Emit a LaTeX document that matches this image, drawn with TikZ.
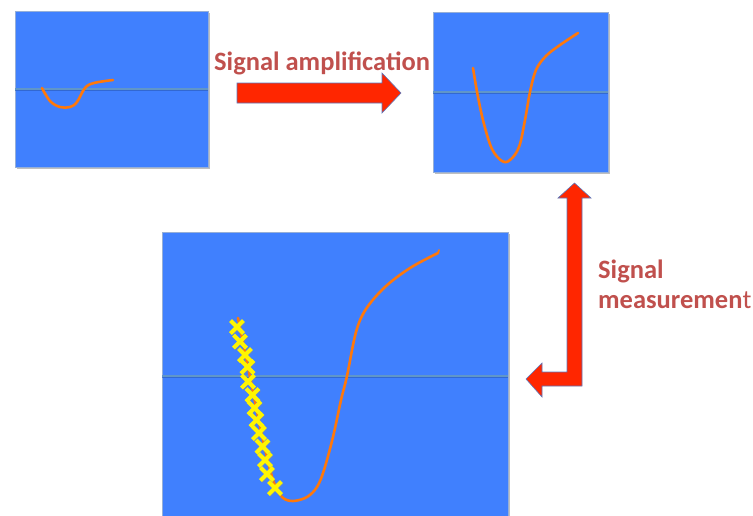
\documentclass[tikz,border=0pt]{standalone}
\usepackage{fontspec}
\setmainfont{Carlito}
\usetikzlibrary{shadows}
\definecolor{panelblue}{RGB}{64,128,254}
\definecolor{axisline}{RGB}{96,150,200}
\definecolor{axisshadow}{RGB}{45,95,190}
\definecolor{sigorange}{RGB}{255,120,10}
\definecolor{arrowred}{RGB}{255,38,0}
\definecolor{arrowedge}{RGB}{90,120,190}
\definecolor{labelred}{RGB}{192,80,77}
\definecolor{markyellow}{RGB}{255,245,0}
\tikzset{
  panel/.style={fill=panelblue, draw={rgb,255:red,150;green,175;blue,215}, line width=0.8pt,
    inner sep=0pt, outer sep=0pt, anchor=north west,
    drop shadow={shadow xshift=1.5pt, shadow yshift=-2pt, opacity=0.25, fill=black}},
  axis/.style={axisline, line width=2pt},
  axisshade/.style={axisshadow, line width=1.2pt, opacity=0.7},
  signal/.style={sigorange, line width=2.6pt, line cap=round, line join=round},
  blockarrow/.style={fill=arrowred, draw=arrowedge, line width=0.6pt, line join=miter},
  label/.style={text=labelred, font=\fontsize{26.5}{30}\selectfont\bfseries, inner sep=0pt},
  xmark/.style={markyellow, line width=4.2pt},
  xshade/.style={black!45, line width=4.2pt, opacity=0.35}
}
\begin{document}
\begin{tikzpicture}[x=1pt, y=-1pt]
\useasboundingbox (0,0) rectangle (753,515);
\clip (0,0) rectangle (753,515);

% panels
\node[panel, minimum width=193pt, minimum height=156pt] (p1) at (15,11) {};
\node[panel, minimum width=175pt, minimum height=160pt] (p2) at (433,12) {};
\node[panel, minimum width=346pt, minimum height=300pt] (p3) at (162,232) {};

% axis lines
\draw[axisshade] (p1.west |- 0,90.5) -- (p1.east |- 0,90.5);
\draw[axis] (p1.west |- 0,89) -- (p1.east |- 0,89);
\draw[axisshade] (p2.west |- 0,93.5) -- (p2.east |- 0,93.5);
\draw[axis] (p2.west |- 0,92) -- (p2.east |- 0,92);
\draw[axisshade] (p3.west |- 0,377.5) -- (p3.east |- 0,377.5);
\draw[axis] (p3.west |- 0,376) -- (p3.east |- 0,376);

% signals
\draw[signal] plot[smooth, tension=0.6] coordinates {(42,88) (50,101) (60,107) (70,107) (77,102) (85,88) (94,83) (113,80)};
\draw[signal] plot[smooth, tension=0.6] coordinates {(473,68) (478,97) (484,124) (492,149) (502,161) (510,160) (519,147) (525,120) (530,92) (536,70) (546,56) (560,45) (578,33)};
\draw[signal] plot[smooth, tension=0.55] coordinates {(238,318) (245,352) (253,392) (263,440) (273,480) (282,497) (293,501) (307,497) (317,487) (324,470) (333,437) (341,400) (347,376) (356,332) (366,309) (385,287) (410,268) (438,253)};
\draw[signal, line width=1.8pt] (438,253) -- (439,250);

% measurement marks
\foreach \mx/\my in {237/327, 240/341.5, 245/355, 247.5/367, 248/381.5, 252.5/395, 254.5/408, 256.5/420, 259/433, 262.5/446.5, 265/460, 267/474, 275/488}{
  \draw[xshade] (\mx-5.5,\my-5) -- (\mx+7,\my+7.5) (\mx-5.5,\my+7.5) -- (\mx+7,\my-5);
  \draw[xmark] (\mx-6.5,\my-6.5) -- (\mx+6.5,\my+6.5) (\mx-6.5,\my+6.5) -- (\mx+6.5,\my-6.5);
}

% arrows
\draw[blockarrow] (237,83) -- (382,83) -- (382,73) -- (401,93) -- (382,113) -- (382,103) -- (237,103) -- cycle;
\draw[blockarrow] (574.5,183) -- (591,198) -- (582,198) -- (582,386) -- (542,386) -- (542,397) -- (526,379) -- (542,363) -- (542,372) -- (567,372) -- (567,198) -- (558,198) -- cycle;

% labels
\node[label, anchor=base west] (amp) at (214,70) {Signal amplification};
\node[label, anchor=north west, align=left] (meas) at (598,260) {Signal\\measuremen{\mdseries t}};
\end{tikzpicture}
\end{document}
